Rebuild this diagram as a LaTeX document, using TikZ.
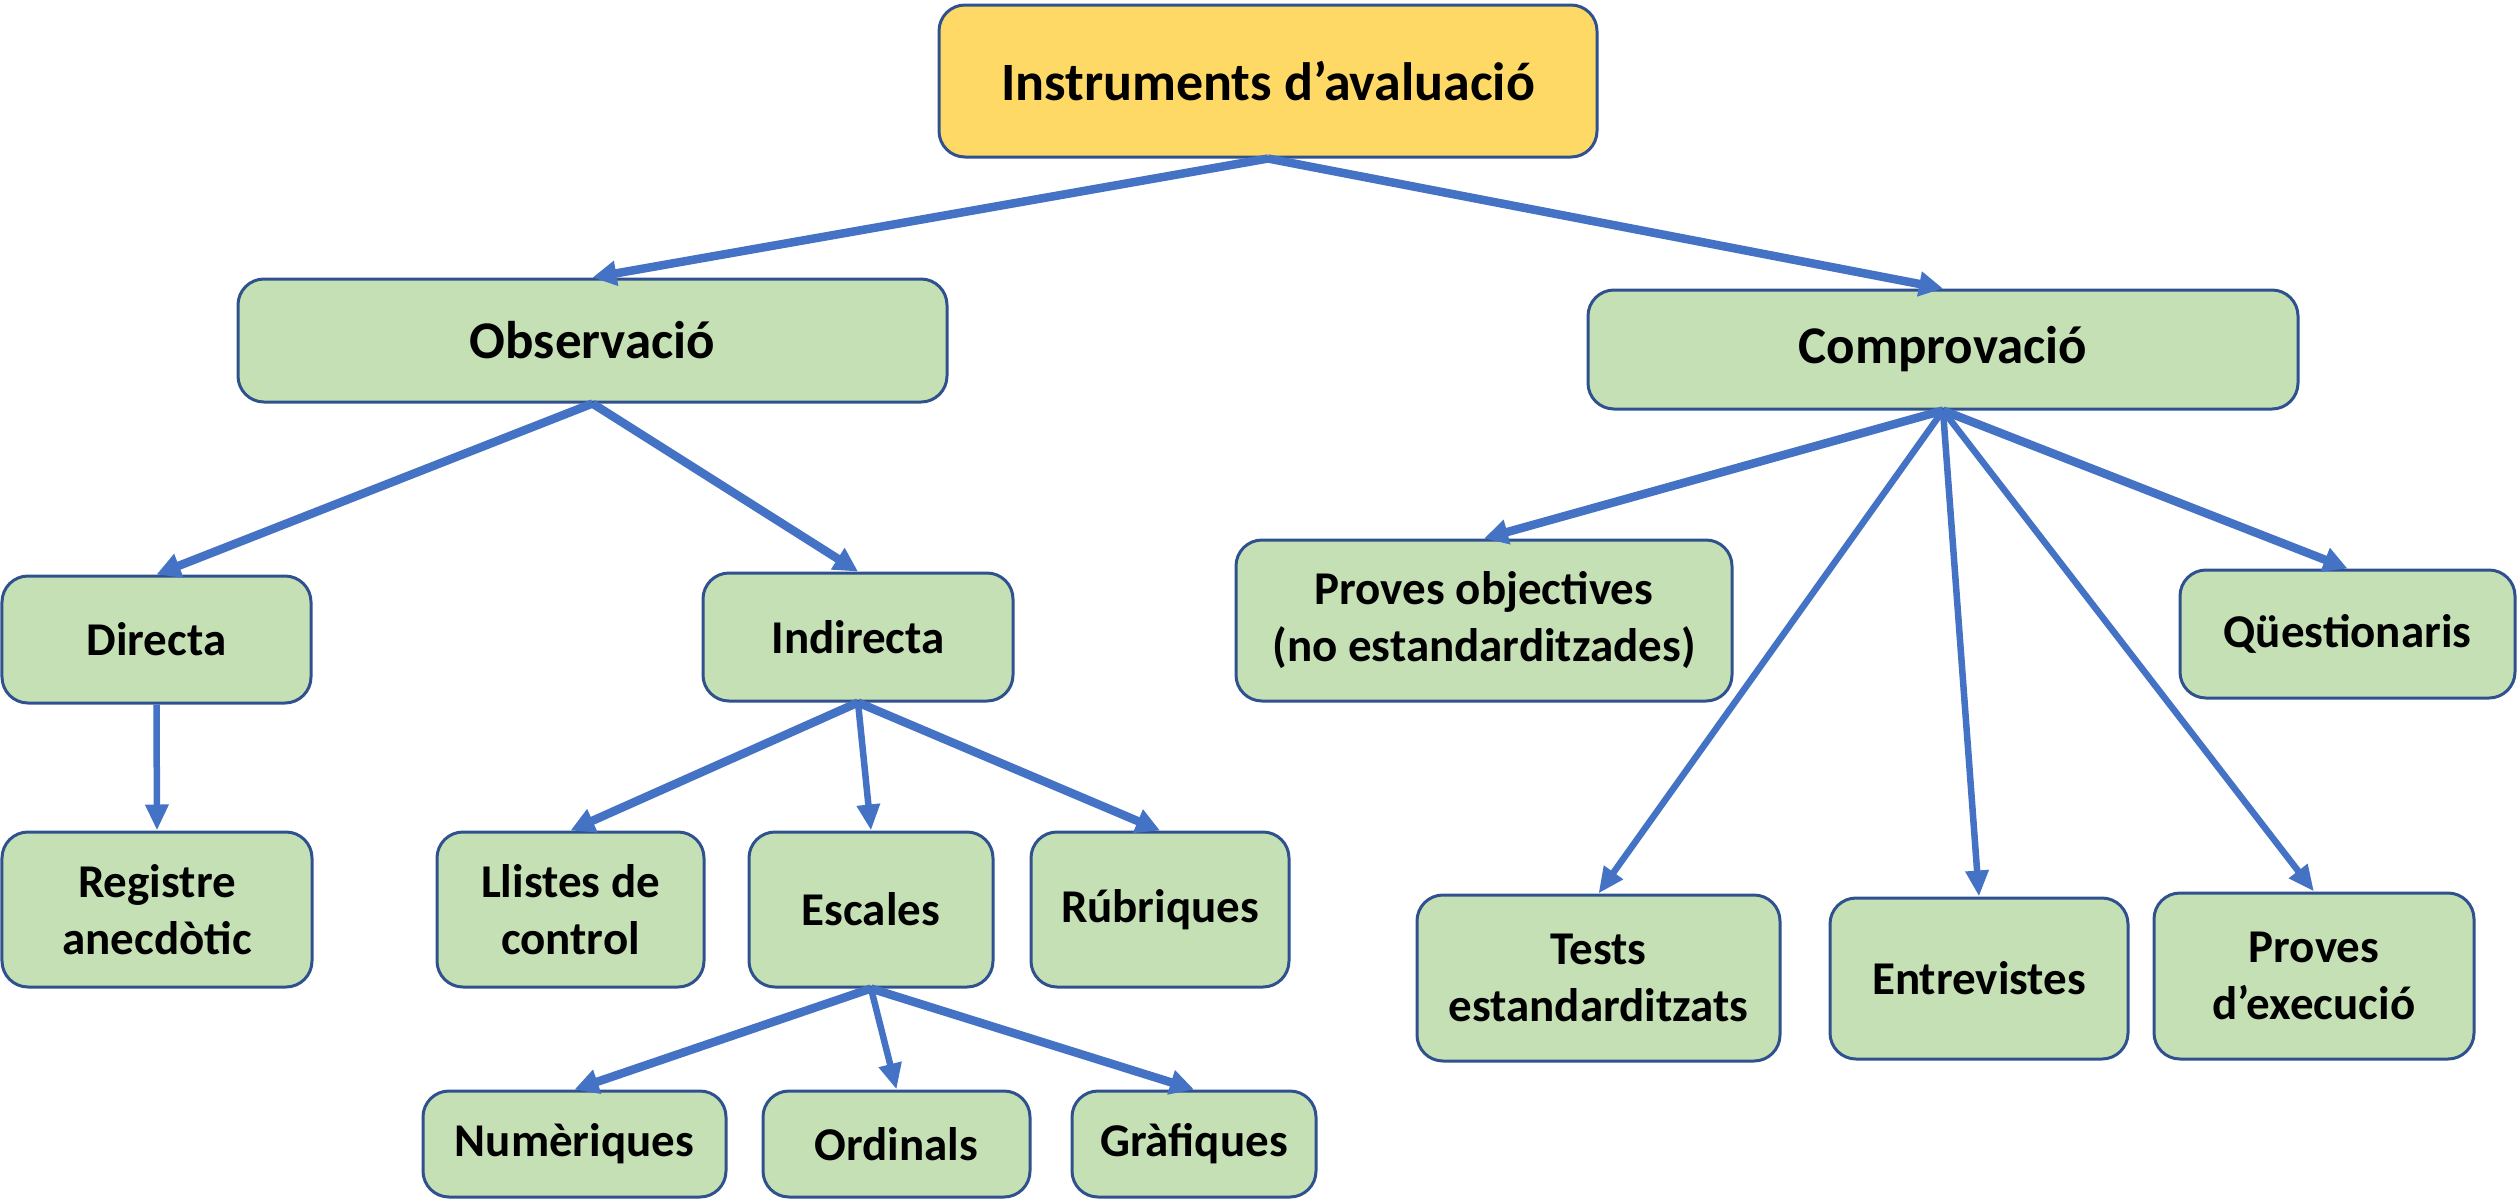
\documentclass[tikz,border=0pt]{standalone}
\usepackage{fontspec}
\setmainfont{Carlito}
\usetikzlibrary{arrows.meta}
\definecolor{rootfill}{HTML}{FFD966}
\definecolor{leaffill}{HTML}{C5E0B4}
\definecolor{boxline}{HTML}{2F528F}
\definecolor{linkblue}{HTML}{4472C4}
\newcommand\pxu{0.3pt}
\begin{document}
\begin{tikzpicture}[x=\pxu, y=-\pxu,
  card/.style={draw=boxline, line width=3*\pxu, rounded corners=26*\pxu,
    align=center, inner sep=0pt, font=\bfseries\fontsize{14.1}{17.1}\selectfont},
  rootcard/.style={card, fill=rootfill, font=\bfseries\fontsize{16.2}{19.5}\selectfont},
  bigcard/.style={card, fill=leaffill, font=\bfseries\fontsize{15.9}{19}\selectfont},
  leaf/.style={card, fill=leaffill},
  link/.style={draw=linkblue, line width=8.5*\pxu,
    -{Triangle[length=24*\pxu, width=24*\pxu]}},
  thinlink/.style={draw=linkblue, line width=6.5*\pxu,
    -{Triangle[length=26*\pxu, width=22*\pxu]}}]
\useasboundingbox (0,0) rectangle (2517,1201);

% root and first level
\node[rootcard, minimum width=658*\pxu, minimum height=152*\pxu] (root) at (1268,81) {Instruments d’avaluació};
\node[bigcard, minimum width=709*\pxu, minimum height=123*\pxu] (obs) at (592.5,340.5) {Observació};
\node[bigcard, minimum width=710*\pxu, minimum height=119*\pxu] (comp) at (1943,349.5) {Comprovació};

% observation branch
\node[leaf, minimum width=309*\pxu, minimum height=127*\pxu] (dir) at (156.5,639.5) {Directa};
\node[leaf, minimum width=310*\pxu, minimum height=128*\pxu] (ind) at (858,637) {Indirecta};
\node[leaf, minimum width=310*\pxu, minimum height=155*\pxu] (reg) at (157,909.5) {Registre\\anecdòtic};
\node[leaf, minimum width=267*\pxu, minimum height=155*\pxu] (llis) at (570.5,909.5) {Llistes de\\control};
\node[leaf, minimum width=244*\pxu, minimum height=155*\pxu] (esc) at (871,909.5) {Escales};
\node[leaf, minimum width=258*\pxu, minimum height=155*\pxu] (rub) at (1160,909.5) {Rúbriques};
\node[leaf, minimum width=303*\pxu, minimum height=106*\pxu] (num) at (574.5,1144) {Numèriques};
\node[leaf, minimum width=267*\pxu, minimum height=106*\pxu] (ord) at (896.5,1144) {Ordinals};
\node[leaf, minimum width=244*\pxu, minimum height=106*\pxu] (gra) at (1194,1144) {Gràfiques};

% verification branch
\node[leaf, minimum width=496*\pxu, minimum height=161*\pxu] (pobj) at (1484,620.5) {Proves objectives\\(no estandarditzades)};
\node[leaf, minimum width=335*\pxu, minimum height=128*\pxu] (qst) at (2347.5,634) {Qüestionaris};
\node[leaf, minimum width=363*\pxu, minimum height=166*\pxu] (tests) at (1598.5,978) {Tests\\estandarditzats};
\node[leaf, minimum width=298*\pxu, minimum height=161*\pxu] (entr) at (1979,978.5) {Entrevistes};
\node[leaf, minimum width=320*\pxu, minimum height=166*\pxu] (pexe) at (2314,976) {Proves\\d’execució};

% connectors
\draw[link] (root.south) -- (obs.north);
\draw[link] (root.south) -- (comp.north);
\draw[link] (obs.south) -- (dir.north);
\draw[link] (obs.south) -- (ind.north);
\draw[thinlink] (dir.south) -- (reg.north);
\draw[link] (ind.south) -- (llis.north);
\draw[thinlink] (ind.south) -- (esc.north);
\draw[link] (ind.south) -- (rub.north);
\draw[link] (esc.south) -- (num.north);
\draw[thinlink] (esc.south) -- (ord.north);
\draw[link] (esc.south) -- (gra.north);
\draw[link] (comp.south) -- (pobj.north);
\draw[link] (comp.south) -- (qst.north);
\draw[thinlink] (comp.south) -- (tests.north);
\draw[thinlink] (comp.south) -- (entr.north);
\draw[thinlink] (comp.south) -- (pexe.north);
\end{tikzpicture}
\end{document}
